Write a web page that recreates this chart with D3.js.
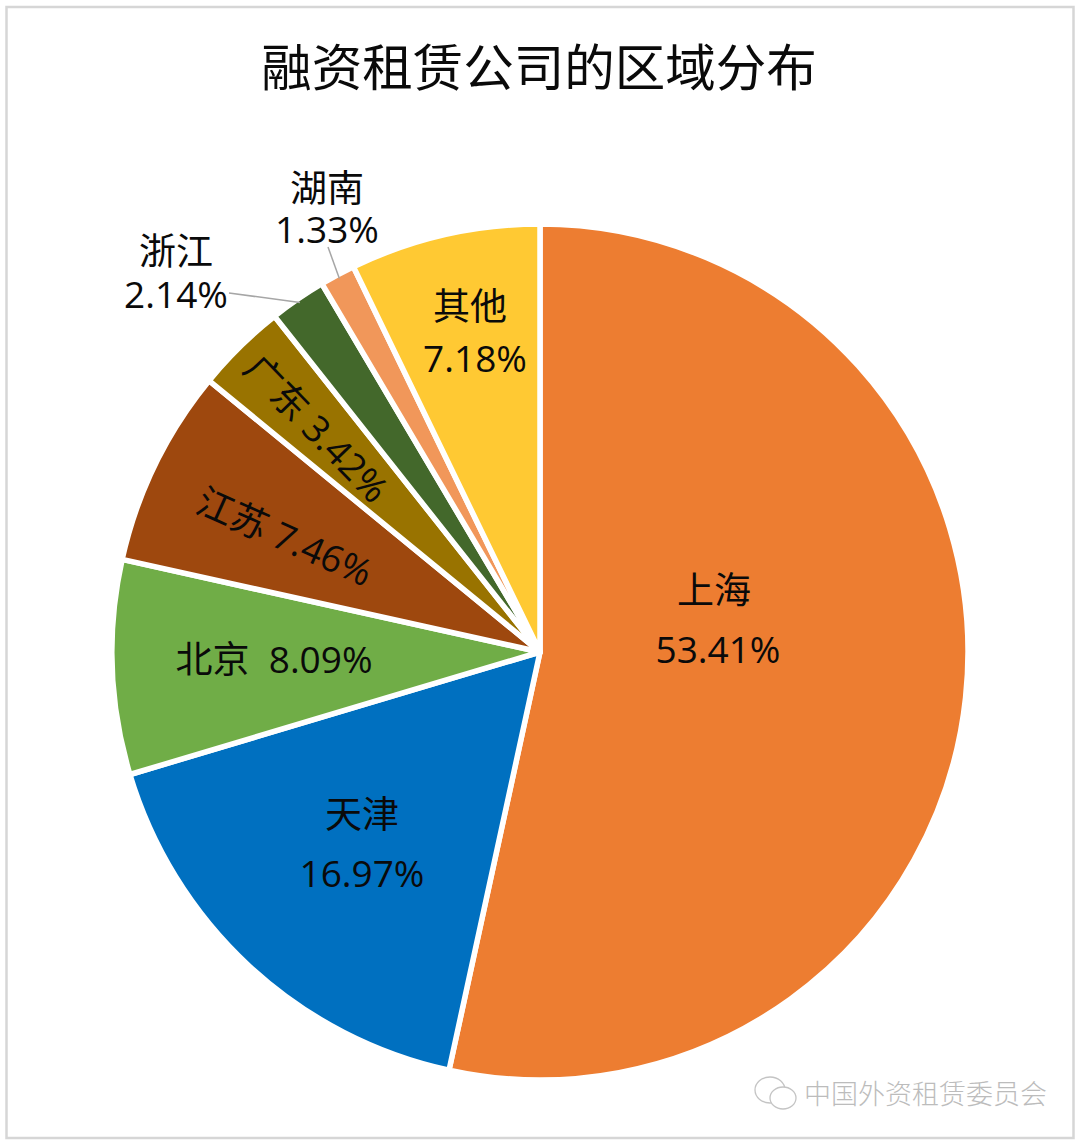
<!doctype html>
<html lang="zh-CN">
<head>
<meta charset="utf-8">
<title>融资租赁公司的区域分布</title>
<script src="https://d3js.org/d3.v7.min.js"></script>
<style>
  html, body { margin: 0; padding: 0; background: #fff; }
  svg { display: block; }
  text { font-family: "Open Sans", "Noto Sans CJK SC", sans-serif; fill: #0a0a0a; }
</style>
</head>
<body>
<svg id="chart" width="1080" height="1142"></svg>
<script>
  // data
  var regions = ["上海", "天津", "北京", "江苏", "广东", "浙江", "湖南", "其他"];
  var shares = [53.41, 16.97, 8.09, 7.46, 3.42, 2.14, 1.33, 7.18];
  var colors = ["#ed7d31", "#0070c0", "#70ad47", "#9e480e", "#997300", "#43682b", "#f1975a", "#ffc933"];

  // label placement, same order as regions: [x, y, rotate, one line?]
  var labelPlace = [
    [718, 594, 0, false],
    [362, 818, 0, false],
    [274, 663, 0, true],
    [283, 540, 24, true],
    [314, 431, 46, true],
    [176, 255, 0, false],
    [327, 192, 0, false],
    [475, 310, 0, false]
  ];
  var lineGap = [59, 59, 0, 0, 0, 43, 41, 52];
  var nameShift = [-4, 0, 0, 0, 0, 0, 0, -5];

  var svg = d3.select("#chart");

  svg.append("rect")
    .attr("x", 6.5).attr("y", 7)
    .attr("width", 1067).attr("height", 1131)
    .attr("fill", "#fff")
    .attr("stroke", "#d6d6d6")
    .attr("stroke-width", 2.5);

  svg.append("text")
    .attr("x", 539).attr("y", 86)
    .attr("text-anchor", "middle")
    .style("font-size", "50.5px")
    .text("融资租赁公司的区域分布");

  var pie = d3.pie().sort(null).value(function(d) { return d; });
  var arc = d3.arc().innerRadius(0).outerRadius(428);
  var arcs = pie(shares);

  var g = svg.append("g").attr("transform", "translate(540,652)");

  g.selectAll("path")
    .data(arcs)
    .enter().append("path")
    .attr("d", arc)
    .attr("fill", function(d, i) { return colors[i]; })
    .attr("stroke", "#fff")
    .attr("stroke-width", 5.5)
    .attr("stroke-linejoin", "round");

  // leader lines for the two small outside slices
  var leader = d3.line();
  [[5, [229, 293]], [6, [328, 247]]].forEach(function(l) {
    var a = arcs[l[0]];
    var mid = (a.startAngle + a.endAngle) / 2;
    var edge = [540 + 424 * Math.sin(mid), 652 - 424 * Math.cos(mid)];
    svg.append("path")
      .attr("d", leader([l[1], edge]))
      .attr("fill", "none")
      .attr("stroke", "#a6a6a6")
      .attr("stroke-width", 1.5);
  });

  function pct(v) { return v.toFixed(2) + "%"; }

  regions.forEach(function(name, i) {
    var p = labelPlace[i];
    var t = svg.append("text")
      .attr("text-anchor", "middle")
      .attr("dominant-baseline", "middle")
      .attr("transform", "translate(" + p[0] + "," + p[1] + ") rotate(" + p[2] + ")")
      .style("font-size", "37px");
    if (p[3]) {
      t.text(name + (i == 2 ? "  " : " ") + pct(shares[i]));
      t.attr("xml:space", "preserve");
    } else {
      t.append("tspan").attr("x", nameShift[i]).attr("y", 0).text(name);
      t.append("tspan").attr("x", 0).attr("y", lineGap[i]).text(pct(shares[i]));
    }
  });

  // watermark
  var mark = svg.append("g").attr("fill", "#fff").attr("stroke", "#c4c4c4").attr("stroke-width", 1.3);
  mark.append("ellipse").attr("cx", 770).attr("cy", 1090).attr("rx", 15).attr("ry", 13);
  mark.append("ellipse").attr("cx", 783).attr("cy", 1098).attr("rx", 13).attr("ry", 11);
  svg.append("text")
    .attr("x", 804).attr("y", 1104)
    .style("font-size", "27px")
    .style("font-family", '"Noto Sans CJK SC", sans-serif')
    .style("font-weight", 300)
    .style("fill", "#bcbcbc")
    .text("中国外资租赁委员会");
</script>
</body>
</html>
